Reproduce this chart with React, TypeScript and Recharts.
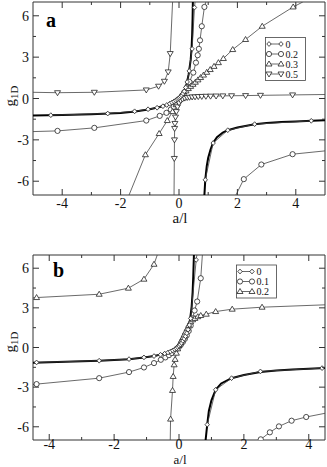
import React from 'react';
import { LineChart, Line, XAxis, YAxis, ReferenceArea } from 'recharts';

const FONT = '"Liberation Serif", "Times New Roman", serif';

type Pt = { x: number; y: number };
type Kind = 'diamond' | 'circle' | 'up' | 'down';

// shared y ticks (minor every 1.5, labelled every 3)
const yTicks = [-6, -4.5, -3, -1.5, 0, 1.5, 3, 4.5, 6];
const yLabels = [-6, -3, 0, 3, 6];

// ---------------- panel a ----------------
const xTicksA = [-4, -3, -2, -1, 0, 1, 2, 3, 4];
const xLabelsA = [-4, -2, 0, 2, 4];
const legendA = ['0', '0.2', '0.3', '0.5'];

// thick curve for 0 (two branches)
const zeroCurveLeftA: Pt[] = [
  { x: -5, y: -1.23 }, { x: -4, y: -1.19 }, { x: -3, y: -1.14 }, { x: -2, y: -1.06 },
  { x: -1.5, y: -0.94 }, { x: -1, y: -0.78 }, { x: -0.66, y: -0.62 }, { x: -0.4, y: -0.45 },
  { x: -0.2, y: -0.24 }, { x: 0, y: 0.04 }, { x: 0.1, y: 0.24 }, { x: 0.18, y: 0.52 },
  { x: 0.26, y: 1.05 }, { x: 0.33, y: 1.75 }, { x: 0.4, y: 2.8 }, { x: 0.43, y: 3.6 },
  { x: 0.45, y: 4.6 }, { x: 0.465, y: 5.8 }, { x: 0.475, y: 7 },
];
const zeroCurveRightA: Pt[] = [
  { x: 0.87, y: -7 }, { x: 0.9, y: -5.9 }, { x: 0.95, y: -4.9 }, { x: 1, y: -4.3 },
  { x: 1.08, y: -3.7 }, { x: 1.16, y: -3.25 }, { x: 1.3, y: -2.8 }, { x: 1.5, y: -2.47 },
  { x: 1.67, y: -2.3 }, { x: 2, y: -2.1 }, { x: 2.59, y: -1.87 }, { x: 3, y: -1.78 },
  { x: 3.5, y: -1.7 }, { x: 4, y: -1.66 }, { x: 4.54, y: -1.62 }, { x: 5, y: -1.58 },
];
// markers
const zeroMarksLeftA: Pt[] = [
  { x: -4.39, y: -1.21 }, { x: -2.44, y: -1.09 }, { x: -1.52, y: -0.93 }, { x: -1.06, y: -0.78 },
  { x: -0.75, y: -0.67 }, { x: -0.55, y: -0.56 }, { x: -0.42, y: -0.47 }, { x: -0.32, y: -0.38 },
  { x: -0.24, y: -0.29 }, { x: -0.17, y: -0.21 }, { x: -0.11, y: -0.13 }, { x: -0.06, y: -0.06 },
  { x: -0.02, y: 0 }, { x: 0.02, y: 0.06 }, { x: 0.06, y: 0.14 }, { x: 0.1, y: 0.24 },
  { x: 0.14, y: 0.36 }, { x: 0.18, y: 0.52 }, { x: 0.23, y: 0.8 }, { x: 0.28, y: 1.2 },
  { x: 0.35, y: 2.0 }, { x: 0.45, y: 3.6 }, { x: 0.53, y: 6.6 }, { x: 0.55, y: 7 },
];
const zeroMarksRightA: Pt[] = [
  { x: 0.9, y: -5.9 }, { x: 1.17, y: -3.23 }, { x: 1.67, y: -2.3 }, { x: 2.59, y: -1.86 },
  { x: 4.53, y: -1.62 },
];
const c02LeftA: Pt[] = [
  { x: -5, y: -2.4 }, { x: -4.16, y: -2.35 }, { x: -2.9, y: -2.13 }, { x: -1.12, y: -1.6 },
  { x: -0.66, y: -1.26 }, { x: -0.43, y: -1.04 }, { x: -0.28, y: -0.8 }, { x: -0.18, y: -0.6 },
  { x: -0.1, y: -0.4 }, { x: -0.03, y: -0.2 }, { x: 0.03, y: 0 }, { x: 0.1, y: 0.2 },
  { x: 0.18, y: 0.45 }, { x: 0.27, y: 0.8 }, { x: 0.36, y: 1.2 }, { x: 0.49, y: 1.88 },
  { x: 0.58, y: 2.6 }, { x: 0.64, y: 3.14 }, { x: 0.68, y: 3.6 }, { x: 0.72, y: 4.22 },
  { x: 0.78, y: 5.24 }, { x: 0.87, y: 6.64 }, { x: 0.92, y: 7 },
];
const c02RightA: Pt[] = [
  { x: 1.95, y: -7 }, { x: 2.22, y: -5.85 }, { x: 2.82, y: -4.79 }, { x: 3.89, y: -4.04 },
  { x: 5, y: -3.8 },
];
const t03A: Pt[] = [
  { x: -1.71, y: -7 }, { x: -1.15, y: -4.08 }, { x: -0.68, y: -2.54 }, { x: -0.4, y: -1.6 },
  { x: -0.22, y: -0.95 }, { x: -0.1, y: -0.45 }, { x: 0, y: -0.1 }, { x: 0.08, y: 0.15 },
  { x: 0.16, y: 0.35 }, { x: 0.24, y: 0.55 }, { x: 0.32, y: 0.72 }, { x: 0.4, y: 0.88 },
  { x: 0.48, y: 1.03 }, { x: 0.56, y: 1.18 }, { x: 0.65, y: 1.35 }, { x: 0.74, y: 1.52 },
  { x: 0.84, y: 1.7 }, { x: 0.95, y: 1.9 }, { x: 1.07, y: 2.1 }, { x: 1.2, y: 2.33 },
  { x: 1.35, y: 2.6 }, { x: 1.52, y: 2.9 }, { x: 1.84, y: 3.55 }, { x: 2.28, y: 4.28 },
  { x: 2.85, y: 5.24 }, { x: 3.91, y: 6.64 }, { x: 4.24, y: 7 },
];
const t05LeftA: Pt[] = [
  { x: -5, y: 0.45 }, { x: -4.16, y: 0.42 }, { x: -2.9, y: 0.45 }, { x: -1.12, y: 0.62 },
  { x: -0.7, y: 0.89 }, { x: -0.5, y: 1.25 }, { x: -0.37, y: 1.93 }, { x: -0.3, y: 3.26 },
  { x: -0.22, y: 7 },
];
const t05RightA: Pt[] = [
  { x: -0.17, y: -7 }, { x: -0.16, y: -4.35 }, { x: -0.155, y: -3.0 }, { x: -0.15, y: -2.17 },
  { x: -0.14, y: -1.81 }, { x: -0.12, y: -1.35 }, { x: -0.09, y: -0.95 }, { x: -0.05, y: -0.6 },
  { x: 0, y: -0.32 }, { x: 0.06, y: -0.15 }, { x: 0.12, y: -0.04 }, { x: 0.2, y: 0.03 },
  { x: 0.28, y: 0.07 }, { x: 0.36, y: 0.09 }, { x: 0.45, y: 0.11 }, { x: 0.55, y: 0.12 },
  { x: 0.66, y: 0.14 }, { x: 0.78, y: 0.15 }, { x: 0.92, y: 0.16 }, { x: 1.08, y: 0.17 },
  { x: 1.27, y: 0.18 }, { x: 1.5, y: 0.19 }, { x: 1.8, y: 0.2 }, { x: 2.28, y: 0.21 },
  { x: 2.79, y: 0.23 }, { x: 3.89, y: 0.26 }, { x: 5, y: 0.29 },
];

// ---------------- panel b ----------------
const xTicksB = [-4, -3, -2, -1, 0, 1, 2, 3, 4];
const xLabelsB = [-4, -2, 0, 2, 4];
const legendB = ['0', '0.1', '0.2'];

const zeroCurveLeftB: Pt[] = [
  { x: -4.5, y: -1.15 }, { x: -3.5, y: -1.07 }, { x: -2.46, y: -1.0 }, { x: -2, y: -0.95 },
  { x: -1.54, y: -0.88 }, { x: -1.08, y: -0.75 }, { x: -0.77, y: -0.65 }, { x: -0.5, y: -0.5 },
  { x: -0.3, y: -0.36 }, { x: -0.15, y: -0.2 }, { x: 0, y: 0.05 }, { x: 0.1, y: 0.32 },
  { x: 0.2, y: 0.82 }, { x: 0.28, y: 1.4 }, { x: 0.34, y: 2.1 }, { x: 0.39, y: 3.1 },
  { x: 0.42, y: 4.2 }, { x: 0.44, y: 5.4 }, { x: 0.46, y: 7 },
];
const zeroCurveRightB: Pt[] = [
  { x: 0.82, y: -7 }, { x: 0.87, y: -5.84 }, { x: 0.92, y: -4.8 }, { x: 1, y: -4.0 },
  { x: 1.13, y: -3.2 }, { x: 1.3, y: -2.72 }, { x: 1.62, y: -2.32 }, { x: 2, y: -2.08 },
  { x: 2.51, y: -1.86 }, { x: 3, y: -1.74 }, { x: 3.5, y: -1.66 }, { x: 4, y: -1.6 },
  { x: 4.5, y: -1.55 },
];
const zeroMarksLeftB: Pt[] = [
  { x: -4.39, y: -1.13 }, { x: -2.46, y: -1.0 }, { x: -1.54, y: -0.88 }, { x: -1.08, y: -0.75 },
  { x: -0.77, y: -0.65 }, { x: -0.57, y: -0.55 }, { x: -0.44, y: -0.46 }, { x: -0.34, y: -0.38 },
  { x: -0.26, y: -0.3 }, { x: -0.19, y: -0.22 }, { x: -0.13, y: -0.14 }, { x: -0.08, y: -0.06 },
  { x: -0.04, y: 0.03 }, { x: 0, y: 0.12 }, { x: 0.04, y: 0.22 }, { x: 0.08, y: 0.34 },
  { x: 0.12, y: 0.5 }, { x: 0.16, y: 0.66 }, { x: 0.2, y: 0.85 }, { x: 0.24, y: 1.08 },
  { x: 0.28, y: 1.35 }, { x: 0.32, y: 1.7 }, { x: 0.36, y: 2.2 }, { x: 0.53, y: 6.63 },
  { x: 0.55, y: 7 },
];
const zeroMarksRightB: Pt[] = [
  { x: 0.87, y: -5.84 }, { x: 1.13, y: -3.2 }, { x: 1.62, y: -2.32 }, { x: 2.51, y: -1.81 },
  { x: 4.41, y: -1.56 },
];
const c01LeftB: Pt[] = [
  { x: -4.5, y: -2.8 }, { x: -4.39, y: -2.77 }, { x: -2.46, y: -2.32 }, { x: -1.54, y: -1.86 },
  { x: -1.08, y: -1.51 }, { x: -0.77, y: -1.18 }, { x: -0.56, y: -0.93 }, { x: -0.42, y: -0.75 },
  { x: -0.31, y: -0.58 }, { x: -0.22, y: -0.42 }, { x: -0.14, y: -0.26 }, { x: -0.07, y: -0.1 },
  { x: 0, y: 0.05 }, { x: 0.06, y: 0.22 }, { x: 0.12, y: 0.42 }, { x: 0.18, y: 0.65 },
  { x: 0.24, y: 0.92 }, { x: 0.3, y: 1.25 }, { x: 0.36, y: 1.65 }, { x: 0.42, y: 2.2 },
  { x: 0.48, y: 2.8 }, { x: 0.56, y: 3.48 }, { x: 0.67, y: 5.24 }, { x: 0.72, y: 7 },
];
const c01RightB: Pt[] = [
  { x: 2.52, y: -6.95 }, { x: 2.8, y: -6.42 }, { x: 3.08, y: -5.97 }, { x: 3.47, y: -5.54 },
  { x: 3.92, y: -5.26 }, { x: 4.5, y: -4.98 },
];
const t02LeftB: Pt[] = [
  { x: -4.5, y: 3.76 }, { x: -4.39, y: 3.78 }, { x: -2.46, y: 4.03 }, { x: -1.56, y: 4.49 },
  { x: -1.08, y: 5.17 }, { x: -0.77, y: 6.3 }, { x: -0.67, y: 7 },
];
const t02RightB: Pt[] = [
  { x: -0.27, y: -7 }, { x: -0.26, y: -5.42 }, { x: -0.2, y: -3.25 }, { x: -0.18, y: -2.19 },
  { x: -0.15, y: -1.31 }, { x: -0.12, y: -0.9 }, { x: -0.08, y: -0.43 }, { x: -0.04, y: -0.1 },
  { x: 0, y: 0.15 }, { x: 0.04, y: 0.35 }, { x: 0.08, y: 0.55 }, { x: 0.12, y: 0.75 },
  { x: 0.16, y: 0.95 }, { x: 0.2, y: 1.17 }, { x: 0.25, y: 1.42 }, { x: 0.3, y: 1.68 },
  { x: 0.36, y: 1.95 }, { x: 0.42, y: 2.1 }, { x: 0.49, y: 2.2 }, { x: 0.58, y: 2.33 },
  { x: 0.67, y: 2.42 }, { x: 0.84, y: 2.52 }, { x: 1.13, y: 2.72 }, { x: 1.64, y: 2.9 },
  { x: 2.56, y: 3.05 }, { x: 4.5, y: 3.23 },
];

function marker(kind: Kind, cx: number, cy: number, key?: string) {
  const common = { fill: '#fff', stroke: '#222', strokeWidth: 0.8 };
  if (kind === 'circle') return <circle key={key} cx={cx} cy={cy} r={2.6} {...common} />;
  if (kind === 'diamond')
    return <polygon key={key} points={`${cx},${cy - 2.4} ${cx + 2.2},${cy} ${cx},${cy + 2.4} ${cx - 2.2},${cy}`} {...common} />;
  if (kind === 'up')
    return <polygon key={key} points={`${cx},${cy - 3} ${cx + 3},${cy + 2} ${cx - 3},${cy + 2}`} {...common} />;
  return <polygon key={key} points={`${cx},${cy + 3} ${cx + 3},${cy - 2} ${cx - 3},${cy - 2}`} {...common} />;
}

// no marker where the line just runs out of the frame
function makeDot(kind: Kind, xDom: number[]) {
  return (p: any) => {
    const k = `d${p.index}`;
    const v = p.payload;
    if (!v || Math.abs(v.y) >= 7 || v.x <= xDom[0] || v.x >= xDom[1]) return <g key={k} />;
    return marker(kind, p.cx, p.cy, k);
  };
}

// ticks point inwards, mirrored on the top / right edge
function makeXTick(labels: number[], plotTop: number, labelDy: number) {
  return (props: any) => {
    const { x, y, payload } = props;
    const v = payload.value;
    const major = labels.includes(v);
    const len = major ? 6 : 3;
    return (
      <g>
        <line x1={x} x2={x} y1={y} y2={y - len} stroke="#333" />
        <line x1={x} x2={x} y1={plotTop} y2={plotTop + len} stroke="#333" />
        {major && (
          <text x={x} y={y + labelDy} textAnchor="middle" fontSize={14} fontFamily={FONT} fill="#111">
            {String(v)}
          </text>
        )}
      </g>
    );
  };
}

function makeYTick(labels: number[], plotRight: number) {
  return (props: any) => {
    const { x, y, payload } = props;
    const v = payload.value;
    const major = labels.includes(v);
    const len = major ? 6 : 3;
    return (
      <g>
        <line x1={x} x2={x + len} y1={y} y2={y} stroke="#333" />
        <line x1={plotRight} x2={plotRight - len} y1={y} y2={y} stroke="#333" />
        {major && (
          <text x={x - 4} y={y + 5} textAnchor="end" fontSize={14} fontFamily={FONT} fill="#111">
            {String(v)}
          </text>
        )}
      </g>
    );
  };
}

type Series = { data: Pt[]; kind?: Kind; thick?: boolean };

interface PanelProps {
  height: number;
  top: number;
  bottom: number;
  xDomain: number[];
  xTicks: number[];
  xLabels: number[];
  series: Series[];
  letter: string;
  letterPos: [number, number];
  legend: string[];
  legendKinds: Kind[];
  legendBox: [number, number, number, number];
  labelDy: number;
  xTitleY: number;
  xTitleSize: number;
  yTitleY: number;
}

const WIDTH = 327;
const LEFT = 33;
const RIGHT = 2;

function Panel(p: PanelProps) {
  const plotTop = p.top;
  const plotRight = WIDTH - RIGHT;
  const [lx, ly, lw, lh] = p.legendBox;
  const rowH = (lh - 3) / p.legend.length;
  return (
    <div style={{ position: 'relative', width: WIDTH, height: p.height }}>
      <LineChart width={WIDTH} height={p.height} margin={{ top: p.top, right: RIGHT, bottom: 0, left: 0 }}>
        <XAxis
          type="number"
          dataKey="x"
          domain={p.xDomain}
          allowDataOverflow
          ticks={p.xTicks}
          interval={0}
          height={p.bottom}
          tickSize={0}
          tickMargin={0}
          axisLine={false}
          tickLine={false}
          tick={makeXTick(p.xLabels, plotTop, p.labelDy)}
        />
        <YAxis
          type="number"
          domain={[-7, 7]}
          allowDataOverflow
          ticks={yTicks}
          interval={0}
          width={LEFT}
          tickSize={0}
          tickMargin={0}
          axisLine={false}
          tickLine={false}
          tick={makeYTick(yLabels, plotRight)}
        />
        <ReferenceArea
          x1={p.xDomain[0]}
          x2={p.xDomain[1]}
          y1={-7}
          y2={7}
          fill="none"
          stroke="#333"
          strokeWidth={1}
        />
        {p.series.map((s, i) => (
          <Line
            key={i}
            data={s.data}
            dataKey="y"
            type="linear"
            stroke={s.thick ? '#000' : '#444'}
            strokeWidth={s.thick ? 2 : 0.8}
            dot={s.kind ? makeDot(s.kind, p.xDomain) : false}
            activeDot={false}
            isAnimationActive={false}
          />
        ))}
      </LineChart>
      <svg
        width={WIDTH}
        height={p.height}
        style={{ position: 'absolute', left: 0, top: 0, pointerEvents: 'none' }}
      >
        <text x={p.letterPos[0]} y={p.letterPos[1]} fontSize={20} fontWeight="bold" fontFamily={FONT} fill="#000">
          {p.letter}
        </text>
        <rect x={lx} y={ly} width={lw} height={lh} fill="#fff" stroke="#444" strokeWidth={0.8} />
        {p.legend.map((lab, i) => {
          const cy = ly + 1.5 + rowH * (i + 0.5);
          return (
            <g key={lab}>
              <line x1={lx + 3.5} x2={lx + 15.5} y1={cy} y2={cy} stroke="#444" strokeWidth={0.8} />
              {marker(p.legendKinds[i], lx + 3.5, cy)}
              {marker(p.legendKinds[i], lx + 15.5, cy)}
              <text x={lx + 20} y={cy + 3.5} fontSize={10} fontFamily={FONT} fill="#111">
                {lab}
              </text>
            </g>
          );
        })}
        <text x={180} y={p.xTitleY} textAnchor="middle" fontSize={p.xTitleSize} fontFamily={FONT} fill="#111">
          a/l
        </text>
        <text
          transform={`translate(15,${p.yTitleY}) rotate(-90)`}
          textAnchor="middle"
          fontSize={15}
          fontFamily={FONT}
          fill="#111"
        >
          g
          <tspan fontSize={11} dy={3}>
            1D
          </tspan>
        </text>
      </svg>
    </div>
  );
}

export default function App() {
  const seriesA: Series[] = [
    { data: zeroCurveLeftA, thick: true },
    { data: zeroCurveRightA, thick: true },
    { data: c02LeftA, kind: 'circle' },
    { data: c02RightA, kind: 'circle' },
    { data: t03A, kind: 'up' },
    { data: t05LeftA, kind: 'down' },
    { data: t05RightA, kind: 'down' },
    { data: zeroMarksLeftA, kind: 'diamond' },
    { data: zeroMarksRightA, kind: 'diamond' },
  ];
  const seriesB: Series[] = [
    { data: zeroCurveLeftB, thick: true },
    { data: zeroCurveRightB, thick: true },
    { data: c01LeftB, kind: 'circle' },
    { data: c01RightB, kind: 'circle' },
    { data: t02LeftB, kind: 'up' },
    { data: t02RightB, kind: 'up' },
    { data: zeroMarksLeftB, kind: 'diamond' },
    { data: zeroMarksRightB, kind: 'diamond' },
  ];
  return (
    <div style={{ position: 'absolute', left: 0, top: 0, width: WIDTH, height: 467, background: '#fff' }}>
      <Panel
        height={235}
        top={2}
        bottom={40}
        xDomain={[-5, 5]}
        xTicks={xTicksA}
        xLabels={xLabelsA}
        series={seriesA}
        letter="a"
        letterPos={[46, 27]}
        legend={legendA}
        legendKinds={['diamond', 'circle', 'up', 'down']}
        legendBox={[265.5, 37.5, 40, 43]}
        labelDy={12.5}
        xTitleY={223}
        xTitleSize={15}
        yTitleY={96}
      />
      <Panel
        height={232}
        top={20}
        bottom={27}
        xDomain={[-4.5, 4.5]}
        xTicks={xTicksB}
        xLabels={xLabelsB}
        series={seriesB}
        letter="b"
        letterPos={[53, 42]}
        legend={legendB}
        legendKinds={['diamond', 'circle', 'up']}
        legendBox={[236.5, 30, 40, 33]}
        labelDy={9.3}
        xTitleY={229}
        xTitleSize={13}
        yTitleY={107}
      />
    </div>
  );
}
